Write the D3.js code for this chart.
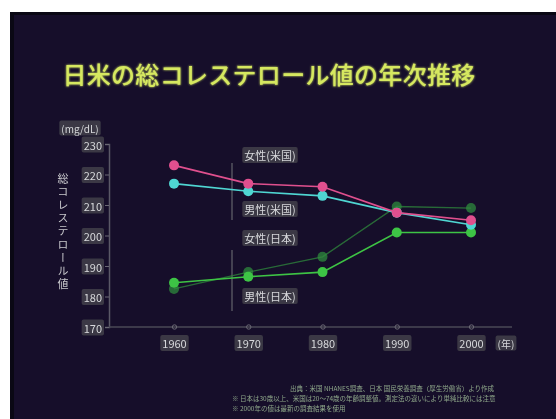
<!DOCTYPE html>
<html>
<head>
<meta charset="utf-8">
<script src="https://cdn.jsdelivr.net/npm/d3@7"></script>
<style>
  html, body { margin: 0; padding: 0; background: #ffffff; }
  svg { display: block; }
</style>
</head>
<body>
<svg id="chart" width="556" height="419"></svg>
<script>
// Survey years on the x axis
const years = [1960, 1970, 1980, 1990, 2000];
// Total cholesterol (mg/dL) by group
const femaleUS = [223, 217, 216, 207.5, 205];
const maleUS = [217, 214.5, 213, 207.5, 203.5];
const femaleJP = [182.5, 188, 193, 209.5, 209];
const maleJP = [184.5, 186.5, 188, 201, 201];
// Y axis ticks
const yTicks = [170, 180, 190, 200, 210, 220, 230];

const series = [
  { name: "女性(日本)", values: femaleJP, color: "#2f8a3c", width: 1.3, opacity: 0.75 },
  { name: "男性(日本)", values: maleJP, color: "#3ec444", width: 1.6, opacity: 1 },
  { name: "男性(米国)", values: maleUS, color: "#4fd6d2", width: 1.6, opacity: 1 },
  { name: "女性(米国)", values: femaleUS, color: "#e0508e", width: 1.6, opacity: 1 }
];

const svg = d3.select("#chart");

// slide background with a white margin at the top and left
svg.append("rect").attr("x", 0).attr("y", 0).attr("width", 556).attr("height", 419).attr("fill", "#ffffff");
svg.append("rect").attr("x", 10).attr("y", 12).attr("width", 546).attr("height", 407).attr("fill", "#160e2a");
svg.append("rect").attr("x", 10).attr("y", 12).attr("width", 4).attr("height", 407).attr("fill", "#0a0814");
svg.append("rect").attr("x", 10).attr("y", 12).attr("width", 546).attr("height", 3).attr("fill", "#0a0814");

const defs = svg.append("defs");
const glow = defs.append("filter").attr("id", "glow").attr("x", "-10%").attr("y", "-30%").attr("width", "120%").attr("height", "160%");
glow.append("feGaussianBlur").attr("stdDeviation", 1.2).attr("result", "b");
const m = glow.append("feMerge");
m.append("feMergeNode").attr("in", "b");
m.append("feMergeNode").attr("in", "SourceGraphic");

const soft = defs.append("filter").attr("id", "soft");
soft.append("feGaussianBlur").attr("stdDeviation", 0.6);

// title
svg.append("text")
  .attr("x", 269).attr("y", 84)
  .attr("text-anchor", "middle")
  .attr("font-family", "Noto Sans CJK JP")
  .attr("font-size", 24)
  .attr("font-weight", 500)
  .attr("letter-spacing", 0.3)
  .attr("fill", "#d6e860")
  .attr("filter", "url(#glow)")
  .text("日米の総コレステロール値の年次推移");

const x = d3.scalePoint().domain(years).range([174, 471]);
const y = d3.scaleLinear().domain([170, 230]).range([327, 144]);

function boxedLabel(g, tx, ty, text, anchor, size) {
  const grp = g.append("g");
  const t = grp.append("text")
    .attr("x", tx).attr("y", ty)
    .attr("text-anchor", anchor)
    .attr("dominant-baseline", "central")
    .attr("font-family", "Noto Sans CJK JP")
    .attr("font-size", size)
    .attr("fill", "#d8d8dc")
    .text(text);
  const bb = t.node().getBBox();
  grp.insert("rect", "text")
    .attr("x", bb.x - 2).attr("y", bb.y)
    .attr("width", bb.width + 4).attr("height", bb.height)
    .attr("rx", 2)
    .attr("fill", "#3a3944");
  grp.attr("filter", "url(#soft)");
  return grp;
}

// y axis
const yAxisG = svg.append("g").attr("transform", "translate(109,0)")
  .call(d3.axisLeft(y).tickValues(yTicks).tickSize(4).tickPadding(6).tickFormat(d3.format("d")));
yAxisG.select(".domain").attr("stroke", "#5a5866").attr("stroke-width", 1.5);
yAxisG.selectAll(".tick line").attr("stroke", "#6a6874");
yAxisG.selectAll(".tick text").remove();
yAxisG.selectAll(".tick").each(function(d) {
  boxedLabel(d3.select(this), -7, 0, String(d), "end", 11);
});

// x axis
const xAxisG = svg.append("g").attr("transform", "translate(0,327)")
  .call(d3.axisBottom(x).tickSize(0).tickPadding(16).tickFormat(d3.format("d")));
xAxisG.select(".domain").attr("d", "M109,0H512").attr("stroke", "#4a4856").attr("stroke-width", 1.5);
xAxisG.selectAll(".tick text").remove();
xAxisG.selectAll(".tick").each(function(d) {
  const g = d3.select(this);
  g.append("circle").attr("r", 2.2).attr("fill", "none").attr("stroke", "#6a6874");
  boxedLabel(g, 0, 16, String(d), "middle", 11);
});
boxedLabel(svg, 506, 343, "(年)", "middle", 10);

// unit
boxedLabel(svg, 80, 128, "(mg/dL)", "middle", 10);

// vertical axis title, set in vertical writing mode
svg.append("text")
  .attr("x", 63).attr("y", 173)
  .attr("font-family", "Noto Sans CJK JP")
  .attr("font-size", 11)
  .attr("letter-spacing", 2.2)
  .attr("fill", "#c8c8cc")
  .attr("filter", "url(#soft)")
  .style("writing-mode", "vertical-rl")
  .style("text-orientation", "upright")
  .text("総コレステロール値");

// bracket lines beside the series labels
svg.append("line").attr("x1", 232).attr("x2", 232).attr("y1", 163).attr("y2", 220)
  .attr("stroke", "#55535f").attr("stroke-width", 1.5);
svg.append("line").attr("x1", 232).attr("x2", 232).attr("y1", 250).attr("y2", 311)
  .attr("stroke", "#55535f").attr("stroke-width", 1.5);

// series lines and markers
const line = d3.line().x((d, i) => x(years[i])).y(d => y(d));
const plot = svg.append("g").attr("filter", "url(#soft)");
series.forEach(s => {
  plot.append("path")
    .datum(s.values)
    .attr("d", line)
    .attr("fill", "none")
    .attr("stroke", s.color)
    .attr("stroke-width", s.width)
    .attr("opacity", s.opacity);
  plot.selectAll(null)
    .data(s.values)
    .enter().append("circle")
    .attr("cx", (d, i) => x(years[i]))
    .attr("cy", d => y(d))
    .attr("r", 5)
    .attr("fill", s.color)
    .attr("opacity", s.opacity);
});

// series labels
boxedLabel(svg, 270, 155, "女性(米国)", "middle", 11);
boxedLabel(svg, 270, 209, "男性(米国)", "middle", 11);
boxedLabel(svg, 270, 238, "女性(日本)", "middle", 11);
boxedLabel(svg, 270, 296, "男性(日本)", "middle", 11);

// source notes
const notes = [
  { x: 290, y: 391, t: "出典：米国 NHANES調査、日本 国民栄養調査（厚生労働省）より作成" },
  { x: 232, y: 401, t: "※ 日本は30歳以上、米国は20〜74歳の年齢調整値。測定法の違いにより単純比較には注意" },
  { x: 232, y: 411, t: "※ 2000年の値は最新の調査結果を使用" }
];
const ng = svg.append("g").attr("filter", "url(#soft)");
notes.forEach(n => {
  ng.append("text")
    .attr("x", n.x).attr("y", n.y)
    .attr("font-family", "Noto Sans CJK JP")
    .attr("font-size", 6.5)
    .attr("fill", "#8fa88a")
    .text(n.t);
});
</script>
</body>
</html>
